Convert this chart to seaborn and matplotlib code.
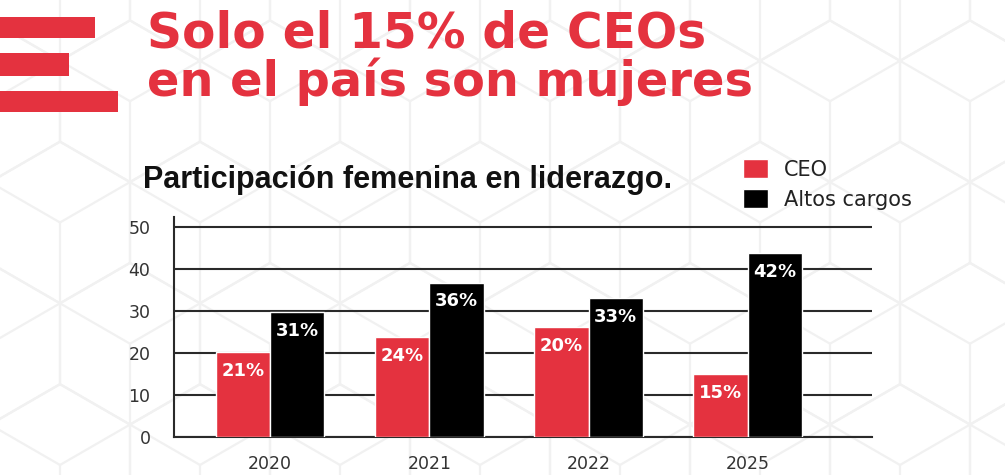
import numpy as np
import pandas as pd
import matplotlib
matplotlib.use("Agg")
import matplotlib.pyplot as plt
import seaborn as sns

# ---- Data ----
years = ["2020", "2021", "2022", "2025"]
ceo = [20.2, 23.8, 26.2, 15.0]
altos = [29.8, 36.8, 33.2, 43.9]
ceo_labels = ["21%", "24%", "20%", "15%"]
altos_labels = ["31%", "36%", "33%", "42%"]
series = ["CEO", "Altos cargos"]

RED = "#E4323F"
BLACK = "#000000"

df = pd.DataFrame({
    "year": years * 2,
    "serie": [series[0]] * len(years) + [series[1]] * len(years),
    "valor": ceo + altos,
})

sns.set_style("white")
plt.rcParams["font.family"] = ["DejaVu Sans"]

fig = plt.figure(figsize=(10.05, 4.75), dpi=100)
fig.patch.set_facecolor("white")

# ---- faint cube/hex background pattern ----
bg = fig.add_axes([0, 0, 1, 1], zorder=-10)
bg.set_xlim(0, 1005)
bg.set_ylim(475, 0)
bg.axis("off")
w = 140.0
R = w / np.sqrt(3)
row = 1.5 * R
for j in range(-1, 6):
    cy = j * row - 20
    off = (w / 2) if j % 2 else 0
    for i in range(-1, 9):
        cx = i * w + off + 60
        ang = np.deg2rad(np.arange(0, 361, 60) + 30)
        hx = cx + R * np.cos(ang)
        hy = cy + R * np.sin(ang)
        bg.plot(hx, hy, color="#f1f1f1", lw=1.6, zorder=-10)
        for k in (1, 3, 5):
            bg.plot([cx, hx[k]], [cy, hy[k]], color="#f1f1f1", lw=1.6, zorder=-10)

# ---- logo stripes ----
for y0, y1, x1 in [(17, 38, 95), (53, 76, 69), (91, 112, 118)]:
    bg.fill_between([0, x1], y0, y1, color=RED, lw=0, zorder=-5)

# ---- titles ----
fig.text(147 / 1005, 1 - 48 / 475, "Solo el 15% de CEOs", color=RED,
         fontsize=35, fontweight="bold", va="baseline", ha="left")
fig.text(147 / 1005, 1 - 96 / 475, "en el país son mujeres", color=RED,
         fontsize=34.5, fontweight="bold", va="baseline", ha="left")
fig.text(143 / 1005, 1 - 188 / 475, "Participación femenina en liderazgo.",
         color="#111111", fontsize=22, fontweight="bold", va="baseline", ha="left",
         family="Liberation Sans")

# ---- chart ----
ax = fig.add_axes([174 / 1005, 1 - 436.7 / 475, (872 - 174) / 1005, (436.7 - 217) / 475])
ax.patch.set_alpha(0)
sns.barplot(data=df, x="year", y="valor", hue="serie", palette=[RED, BLACK],
            width=0.684, saturation=1, errorbar=None, ax=ax, zorder=3)

for cont, labs in zip(ax.containers, [ceo_labels, altos_labels]):
    ax.bar_label(cont, labels=labs, label_type="edge", padding=-20,
                 color="white", fontsize=13, fontweight="bold", zorder=4)

ax.set_xlim(-0.603, 3.78)
ax.set_ylim(0, 52.5)
ax.set_yticks([0, 10, 20, 30, 40, 50])
ax.yaxis.grid(True, color="#2a2a2a", lw=1.5)
ax.set_axisbelow(True)
ax.set_xlabel("")
ax.set_ylabel("")
ax.tick_params(axis="both", length=0, labelsize=12.5, labelcolor="#333333")
ax.tick_params(axis="y", pad=17)
ax.tick_params(axis="x", pad=13)
for s in ["top", "right"]:
    ax.spines[s].set_visible(False)
for s in ["left", "bottom"]:
    ax.spines[s].set_color("#2a2a2a")
    ax.spines[s].set_linewidth(1.5)

handles, labels = ax.get_legend_handles_labels()
ax.legend(handles, labels, loc="upper left",
          bbox_to_anchor=(743 / 1005, 1 - 159 / 475), bbox_transform=fig.transFigure,
          frameon=False, fontsize=15, handlelength=1.2, handleheight=1.05,
          handletextpad=0.75, labelspacing=0.45, borderpad=0, borderaxespad=0,
          labelcolor="#222222")

fig.savefig("out.png", dpi=100)
